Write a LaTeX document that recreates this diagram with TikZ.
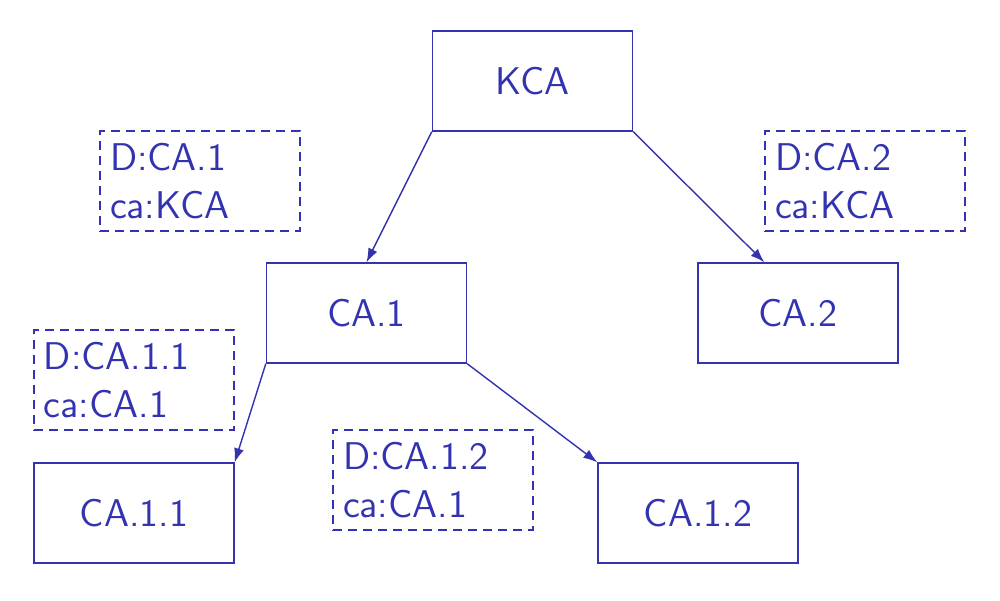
\documentclass[tikz,border=0pt]{standalone}
\usepackage{fontspec}
\usetikzlibrary{calc,arrows.meta}
\definecolor{struct}{rgb}{0.2,0.2,0.7}

\begin{document}
\begin{tikzpicture}[
  every node/.style={font=\sffamily\fontsize{11}{13.6}\selectfont, text=struct},
  cabox/.style={draw=struct, minimum width=2cm, minimum height=1cm, inner sep=0pt},
  infobox/.style={draw=struct, dash pattern=on 0.09cm off 0.06cm, minimum height=1cm,
                  text width=1.8cm, inner sep=0.1cm, align=left},
  link/.style={struct, -{Latex[length=0.14cm, width=0.1cm]}}
]
\useasboundingbox (0,0) rectangle (10,6) ;

\node [cabox] (kca) at (5.325,5.19) {KCA} ;
\node [cabox] (ca1) at (3.665,2.87) {CA.1} ;
\node [cabox] (ca2) at (7.98,2.87) {CA.2} ;
\node [cabox] (ca11) at (1.34,0.87) {CA.1.1} ;
\node [cabox] (ca12) at (6.98,0.87) {CA.1.2} ;

\node [infobox] (d1) at (2.00,4.19) {D:CA.1\\ca:KCA} ;
\node [infobox] (d2) at (8.65,4.19) {D:CA.2\\ca:KCA} ;
\node [infobox] (d11) at (1.34,2.20) {D:CA.1.1\\ca:CA.1} ;
\node [infobox] (d12) at (4.33,1.20) {D:CA.1.2\\ca:CA.1} ;

\draw [link] (kca.south west) -- (ca1.north) ;
\draw [link] (kca.south east) -- ($(ca2.north west)!0.333!(ca2.north east)$) ;
\draw [link] (ca1.south west) -- (ca11.north east) ;
\draw [link] (ca1.south east) -- (ca12.north west) ;

\end{tikzpicture}
\end{document}
